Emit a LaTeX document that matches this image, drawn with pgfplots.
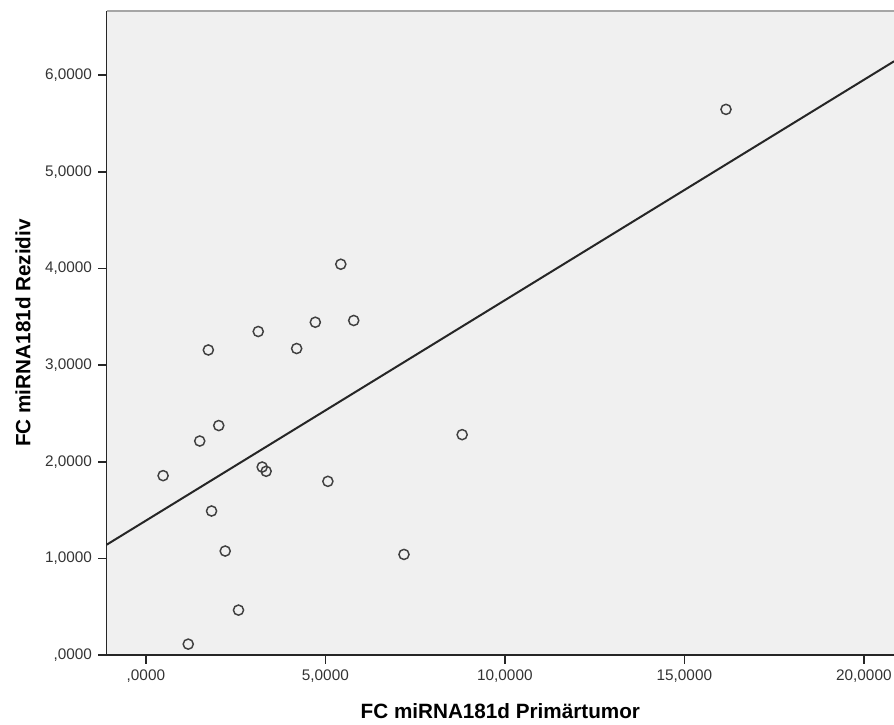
\documentclass[border=0pt]{standalone}
\usepackage{fontspec}
\setmainfont{Liberation Sans}
\usepackage{pgfplots}
\pgfplotsset{compat=1.18}

\definecolor{plotbg}{RGB}{240,240,240}
\definecolor{markgray}{RGB}{64,64,64}
\definecolor{linegray}{RGB}{38,38,38}

\pgfplotstableread{
x     y
1.74  3.157
3.13  3.348
4.72  3.444
5.79  3.462
4.20  3.172
2.03  2.375
1.50  2.215
0.48  1.857
3.24  1.946
3.35  1.902
5.07  1.798
8.81  2.281
1.83  1.491
2.21  1.077
2.58  0.466
1.18  0.114
7.19  1.042
5.43  4.044
16.16 5.646
}\points

\begin{document}
\begin{tikzpicture}
\begin{axis}[
    width=590pt, height=483pt, scale only axis,
    xmin=-1.09, xmax=20.84, ymin=0, ymax=6.667,
    axis background/.style={fill=plotbg},
    axis x line*=bottom, axis y line*=left,
    axis line style={-, black!85, line width=1pt},
    tick align=outside, tick style={black!85, line width=1.1pt},
    major tick length=6.5pt,
    xtick={0,5,10,15,20},
    xticklabels={{,0000},{5,0000},{10,0000},{15,0000},{20,0000}},
    ytick={0,1,2,3,4,5,6},
    yticklabels={{,0000},{1,0000},{2,0000},{3,0000},{4,0000},{5,0000},{6,0000}},
    ticklabel style={font=\fontsize{11.5}{13}\selectfont, text=black!80},
    xticklabel style={yshift=-1pt},
    yticklabel style={xshift=-1pt},
    xlabel={FC miRNA181d Primärtumor},
    ylabel={FC miRNA181d Rezidiv},
    label style={font=\bfseries\fontsize{15.5}{18}\selectfont},
    xlabel style={yshift=-9pt},
    ylabel style={yshift=4pt},
    /pgf/number format/assume math mode=true,
    clip=true,
]
\addplot[linegray, line width=1.5pt] coordinates {(-1.09,1.143) (20.84,6.143)};
\addplot[only marks, mark=o, mark size=3.8pt, mark options={markgray, line width=1.1pt}] table[x=x,y=y] {\points};
\draw[gray!70, line width=1.6pt] (rel axis cs:0,1) -- (rel axis cs:1,1);
\coordinate (sw) at (rel axis cs:0,0);
\coordinate (ne) at (rel axis cs:1,1);
\end{axis}
\pgfresetboundingbox
\path[use as bounding box] ([xshift=-80pt,yshift=-52pt]sw) rectangle ([yshift=8pt]ne);
\end{tikzpicture}
\end{document}
